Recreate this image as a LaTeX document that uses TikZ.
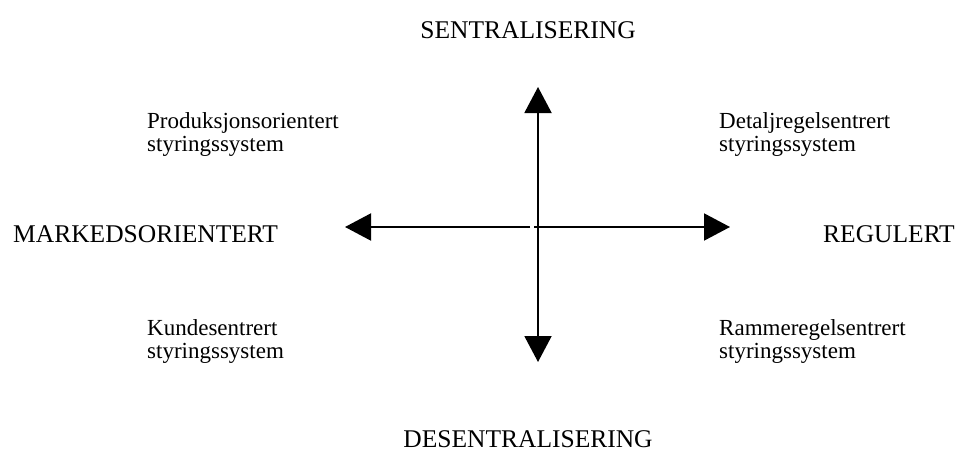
\documentclass[tikz,border=0pt]{standalone}
\usepackage{fontspec}
\setmainfont{Liberation Serif}
\usetikzlibrary{arrows.meta}
\begin{document}
\begin{tikzpicture}[x=1pt,y=-1pt,
  caps/.style={font=\fontsize{25.5}{30}\selectfont, inner sep=0pt},
  small/.style={font=\fontsize{23}{27}\selectfont, inner sep=0pt, anchor=base west},
  tip/.tip={Triangle[length=26pt,width=27pt]},
  axis/.style={line width=2pt, -tip},
]
\useasboundingbox (0,0) rectangle (961,452);
\coordinate (top) at (538,87);
\coordinate (bot) at (538,362);
\coordinate (lt) at (345,227);
\coordinate (rt) at (730,227);
\coordinate (cl) at (530,227);
\coordinate (cr) at (534,227);
\draw[line width=2pt, tip-tip] (top) -- (bot);
\draw[axis] (cl) -- (lt);
\draw[axis] (cr) -- (rt);
\node[caps, anchor=base] (n) at (528,38.5) {SENTRALISERING};
\node[caps, anchor=base] (s) at (528,447.5) {DESENTRALISERING};
\node[caps, anchor=base west] (w) at (13,242) {MARKEDSORIENTERT};
\node[caps, anchor=base east] (e) at (955,242) {REGULERT};
\node[small] (nw1) at (147,128) {Produksjonsorientert};
\node[small] (nw2) at (147,151) {styringssystem};
\node[small] (ne1) at (719,128) {Detaljregelsentrert};
\node[small] (ne2) at (719,151) {styringssystem};
\node[small] (sw1) at (147,335) {Kundesentrert};
\node[small] (sw2) at (147,358) {styringssystem};
\node[small] (se1) at (719,335) {Rammeregelsentrert};
\node[small] (se2) at (719,358) {styringssystem};
\end{tikzpicture}
\end{document}
